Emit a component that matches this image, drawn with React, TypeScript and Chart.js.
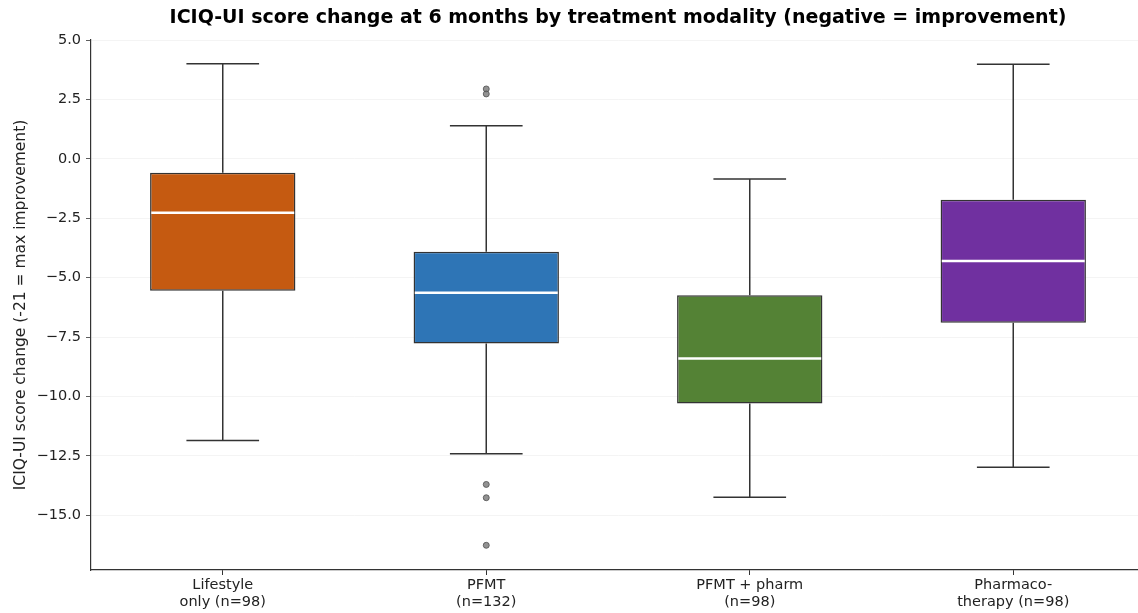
import React, { useEffect, useRef } from 'react';
import { Chart, registerables } from 'chart.js';
Chart.register(...registerables);

const TITLE = 'ICIQ-UI score change at 6 months by treatment modality (negative = improvement)';
const Y_LABEL = 'ICIQ-UI score change (-21 = max improvement)';
const CATEGORIES = [
  ['Lifestyle', 'only (n=98)'],
  ['PFMT', '(n=132)'],
  ['PFMT + pharm', '(n=98)'],
  ['Pharmaco-', 'therapy (n=98)'],
];
const WHISKER_LOW = [-11.85, -12.41, -14.24, -12.98];
const Q1 = [-5.55, -7.77, -10.29, -6.9];
const MEDIAN = [-2.27, -5.63, -8.4, -4.3];
const Q3 = [-0.59, -3.91, -5.74, -1.72];
const WHISKER_HIGH = [4.0, 1.39, -0.85, 3.98];
const OUTLIER_GROUP = [1, 1, 1, 1, 1];
const OUTLIER_VALUE = [2.94, 2.73, -13.7, -14.26, -16.26];
const COLORS = ['#C55A11', '#2E75B6', '#548235', '#7030A0'];
const Y_TICKS = [-15, -12.5, -10, -7.5, -5, -2.5, 0, 2.5, 5];
const Y_MIN = -17.3;
const Y_MAX = 5.0;

const FONT = "'DejaVu Sans', sans-serif";

const boxExtras = {
  id: 'boxExtras',
  beforeDatasetsDraw(chart: any) {
    const ctx = chart.ctx;
    const x = chart.scales.x;
    const y = chart.scales.y;
    const meta = chart.getDatasetMeta(0);
    ctx.save();
    ctx.strokeStyle = '#333333';
    ctx.lineWidth = 1.5;
    CATEGORIES.forEach((_, i) => {
      const cx = x.getPixelForValue(i);
      const w = meta.data[i] ? meta.data[i].width : 140;
      const half = w / 4;
      const yl = y.getPixelForValue(WHISKER_LOW[i]);
      const yh = y.getPixelForValue(WHISKER_HIGH[i]);
      const y1 = y.getPixelForValue(Q1[i]);
      const y3 = y.getPixelForValue(Q3[i]);
      ctx.beginPath();
      ctx.moveTo(cx, y1);
      ctx.lineTo(cx, yl);
      ctx.moveTo(cx, y3);
      ctx.lineTo(cx, yh);
      ctx.moveTo(cx - half, yl);
      ctx.lineTo(cx + half, yl);
      ctx.moveTo(cx - half, yh);
      ctx.lineTo(cx + half, yh);
      ctx.stroke();
    });
    ctx.restore();
  },
  afterDatasetsDraw(chart: any) {
    const ctx = chart.ctx;
    const x = chart.scales.x;
    const y = chart.scales.y;
    const meta = chart.getDatasetMeta(0);
    ctx.save();
    ctx.strokeStyle = '#ffffff';
    ctx.lineWidth = 2.5;
    CATEGORIES.forEach((_, i) => {
      const cx = meta.data[i] ? meta.data[i].x : x.getPixelForValue(i);
      const w = meta.data[i] ? meta.data[i].width : 140;
      const ym = y.getPixelForValue(MEDIAN[i]);
      ctx.beginPath();
      ctx.moveTo(cx - w / 2 + 1.2, ym);
      ctx.lineTo(cx + w / 2 - 1.2, ym);
      ctx.stroke();
    });
    ctx.restore();
  },
  afterDraw(chart: any) {
    const ctx = chart.ctx;
    const area = chart.chartArea;
    ctx.save();
    ctx.fillStyle = '#000000';
    ctx.font = `bold 19px ${FONT}`;
    ctx.textAlign = 'center';
    ctx.textBaseline = 'alphabetic';
    ctx.fillText(TITLE, (area.left + area.right) / 2, 23);
    ctx.font = `15.5px ${FONT}`;
    ctx.fillStyle = '#222222';
    ctx.translate(21, (area.top + area.bottom) / 2);
    ctx.rotate(-Math.PI / 2);
    ctx.textBaseline = 'middle';
    ctx.fillText(Y_LABEL, 0, 0);
    ctx.restore();
  },
};

export default function App() {
  const ref = useRef<HTMLCanvasElement | null>(null);
  useEffect(() => {
    if (!ref.current) return;
    const chart = new Chart(ref.current, {
      type: 'bar',
      data: {
        labels: CATEGORIES as any,
        datasets: [
          {
            type: 'bar',
            xAxisID: 'x',
            data: Q1.map((q, i) => [q, Q3[i]]) as any,
            backgroundColor: COLORS,
            borderColor: '#333333',
            borderWidth: 1.5,
            borderSkipped: false,
            grouped: false,
            barPercentage: 0.5516,
            categoryPercentage: 1.0,
            order: 2,
          } as any,
          {
            type: 'scatter',
            xAxisID: 'xo',
            data: OUTLIER_VALUE.map((v, i) => ({ x: OUTLIER_GROUP[i], y: v })) as any,
            showLine: false,
            pointRadius: 3,
            pointBackgroundColor: 'rgba(110,110,110,0.75)',
            pointBorderColor: 'rgba(80,80,80,0.8)',
            pointBorderWidth: 1,
            order: 1,
          } as any,
        ],
      },
      options: {
        animation: false,
        responsive: false,
        devicePixelRatio: 1,
        layout: { padding: { left: 0, right: 5, top: 40, bottom: 0 } },
        plugins: {
          legend: { display: false },
          title: { display: false },
          tooltip: { enabled: false },
        },
        scales: {
          x: {
            type: 'category',
            offset: true,
            grid: {
              display: true,
              drawOnChartArea: false,
              offset: false,
              tickColor: '#333333',
              tickLength: 5,
              tickWidth: 1,
            },
            border: { display: true, color: '#333333', width: 1.2 },
            ticks: {
              color: '#222222',
              font: { family: FONT, size: 14.5, lineHeight: 1.17 },
              padding: 2,
              maxRotation: 0,
              autoSkip: false,
            },
            afterFit(scale: any) {
              scale.height = 43;
            },
          },
          xo: {
            type: 'linear',
            display: false,
            offset: false,
            min: -0.5,
            max: 3.5,
          },
          y: {
            type: 'linear',
            min: Y_MIN,
            max: Y_MAX,
            afterBuildTicks(scale: any) {
              scale.ticks = Y_TICKS.map((v) => ({ value: v }));
            },
            afterFit(scale: any) {
              scale.width = 91;
            },
            grid: {
              color: 'rgba(0,0,0,0.06)',
              lineWidth: 0.8,
              tickColor: '#333333',
              tickLength: 5,
              drawTicks: true,
            },
            border: { display: true, color: '#333333', width: 1.2 },
            ticks: {
              color: '#222222',
              font: { family: FONT, size: 14.5 },
              padding: 5,
              callback: (v: any) => Number(v).toFixed(1).replace('-', '\u2212'),
            },
          },
        },
      },
      plugins: [boxExtras],
    });
    return () => chart.destroy();
  }, []);
  return (
    <div
      style={{
        position: 'fixed',
        left: 0,
        top: 0,
        width: 1138,
        height: 613,
        overflow: 'hidden',
        background: '#ffffff',
      }}
    >
      <canvas ref={ref} width={1150} height={613} style={{ display: 'block' }} />
    </div>
  );
}
